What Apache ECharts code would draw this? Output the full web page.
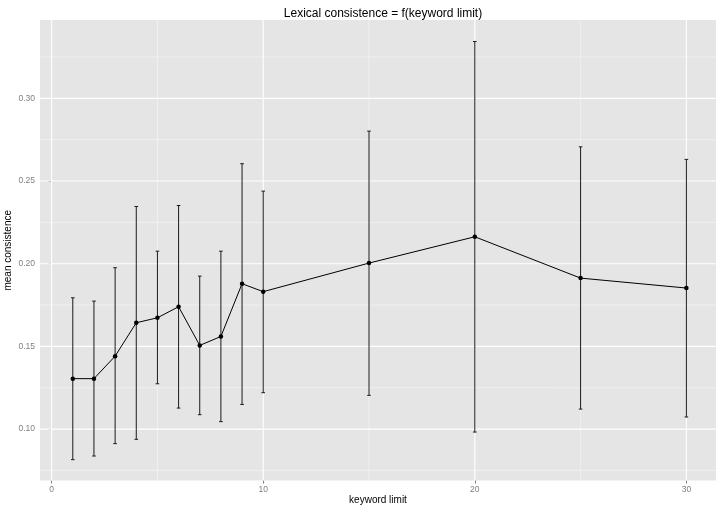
<!DOCTYPE html>
<html>
<head>
<meta charset="utf-8">
<script src="https://cdn.jsdelivr.net/npm/echarts@6/dist/echarts.min.js"></script>
<style>html,body{margin:0;padding:0;background:#fff}#c{width:717px;height:506px}</style>
</head>
<body>
<div id="c"></div>
<script>
var keywordLimit = [1, 2, 3, 4, 5, 6, 7, 8, 9, 10, 15, 20, 25, 30];
var meanConsistence = [0.1305, 0.1305, 0.1441, 0.1643, 0.1673, 0.1740, 0.1506, 0.1560, 0.1879, 0.1831, 0.2004, 0.2163, 0.1913, 0.1853];
var lowerBound = [0.0815, 0.0837, 0.0912, 0.0938, 0.1274, 0.1127, 0.1087, 0.1045, 0.1149, 0.1220, 0.1204, 0.0982, 0.1121, 0.1073];
var upperBound = [0.1794, 0.1774, 0.1976, 0.2346, 0.2076, 0.2352, 0.1925, 0.2076, 0.2605, 0.2439, 0.2802, 0.3344, 0.2707, 0.2631];
var xTicks = [0, 10, 20, 30];
var xMinor = [5, 15, 25];
var yTicks = [0.10, 0.15, 0.20, 0.25, 0.30];
var yMinor = [0.075, 0.125, 0.175, 0.225, 0.275, 0.325];

var FONT = '"Liberation Sans", Arial, Helvetica, sans-serif';
var chart = echarts.init(document.getElementById('c'));

// [direction (0 = vertical line at x, 1 = horizontal line at y), value, major (1) / minor (0)]
var gridData = [];
xMinor.forEach(function (v) { gridData.push([0, v, 0]); });
yMinor.forEach(function (v) { gridData.push([1, v, 0]); });
xTicks.forEach(function (v) { gridData.push([0, v, 1]); });
yTicks.forEach(function (v) { gridData.push([1, v, 1]); });

var lineData = keywordLimit.map(function (k, i) { return [k, meanConsistence[i]]; });
var errData = keywordLimit.map(function (k, i) { return [k, lowerBound[i], upperBound[i]]; });

chart.setOption({
  animation: false,
  backgroundColor: '#ffffff',
  title: {
    text: 'Lexical consistence = f(keyword limit)',
    left: 378, top: 3, textAlign: 'center',
    textStyle: { fontFamily: FONT, fontSize: 12, fontWeight: 'normal', color: '#000' }
  },
  grid: { left: 40, right: 1, top: 20, bottom: 25.5, backgroundColor: '#E5E5E5', show: true, borderWidth: 0,
    containLabel: false, outerBoundsMode: 'none' },
  xAxis: {
    type: 'value', min: -0.55, max: 31.4,
    name: 'keyword limit', nameLocation: 'middle', nameGap: 14.5, nameMoveOverlap: false,
    nameTextStyle: { fontFamily: FONT, fontSize: 10, color: '#000', verticalAlign: 'top' },
    axisLine: { show: false },
    splitLine: { show: false },
    axisTick: { show: true, length: 3, lineStyle: { color: '#7F7F7F' }, customValues: xTicks },
    axisLabel: { customValues: xTicks, fontFamily: FONT, fontSize: 8.5, color: '#7F7F7F', margin: 5 }
  },
  yAxis: {
    type: 'value', min: 0.0689, max: 0.3474,
    name: 'mean consistence', nameLocation: 'middle', nameGap: 27, nameMoveOverlap: false,
    nameTextStyle: { fontFamily: FONT, fontSize: 10, color: '#000', verticalAlign: 'bottom' },
    axisLine: { show: false },
    splitLine: { show: false },
    axisTick: { show: true, length: 3, lineStyle: { color: '#7F7F7F' }, customValues: yTicks },
    axisLabel: { customValues: yTicks, fontFamily: FONT, fontSize: 8.5, color: '#7F7F7F', margin: 5,
      formatter: function (v) { return v.toFixed(2); } }
  },
  series: [
    {
      type: 'custom', silent: true, z: 1,
      data: gridData,
      encode: { x: [], y: [] },
      renderItem: function (params, api) {
        var cs = params.coordSys;
        var dir = api.value(0), v = api.value(1), kind = api.value(2);
        var style = kind === 1 ? { stroke: '#FFFFFF', lineWidth: 1.1 } : { stroke: '#F2F2F2', lineWidth: 0.8 };
        if (dir === 0) {
          var px = api.coord([v, 0.2])[0];
          return { type: 'line', shape: { x1: px, y1: cs.y, x2: px, y2: cs.y + cs.height }, style: style };
        }
        var py = api.coord([0, v])[1];
        return { type: 'line', shape: { x1: cs.x, y1: py, x2: cs.x + cs.width, y2: py }, style: style };
      }
    },
    {
      type: 'custom', silent: true, z: 3,
      data: errData,
      encode: { x: 0, y: [1, 2] },
      renderItem: function (params, api) {
        var x = api.value(0);
        var lo = api.coord([x, api.value(1)]);
        var hi = api.coord([x, api.value(2)]);
        var half = 1.8;
        var st = { stroke: '#1a1a1a', lineWidth: 1 };
        return { type: 'group', children: [
          { type: 'line', shape: { x1: lo[0], y1: lo[1], x2: hi[0], y2: hi[1] }, style: st },
          { type: 'line', shape: { x1: lo[0] - half, y1: lo[1], x2: lo[0] + half, y2: lo[1] }, style: st },
          { type: 'line', shape: { x1: hi[0] - half, y1: hi[1], x2: hi[0] + half, y2: hi[1] }, style: st }
        ]};
      }
    },
    {
      type: 'line', z: 4,
      data: lineData,
      symbol: 'circle', symbolSize: 4.5,
      lineStyle: { color: '#000', width: 1 },
      itemStyle: { color: '#000' }
    }
  ]
});
</script>
</body>
</html>
